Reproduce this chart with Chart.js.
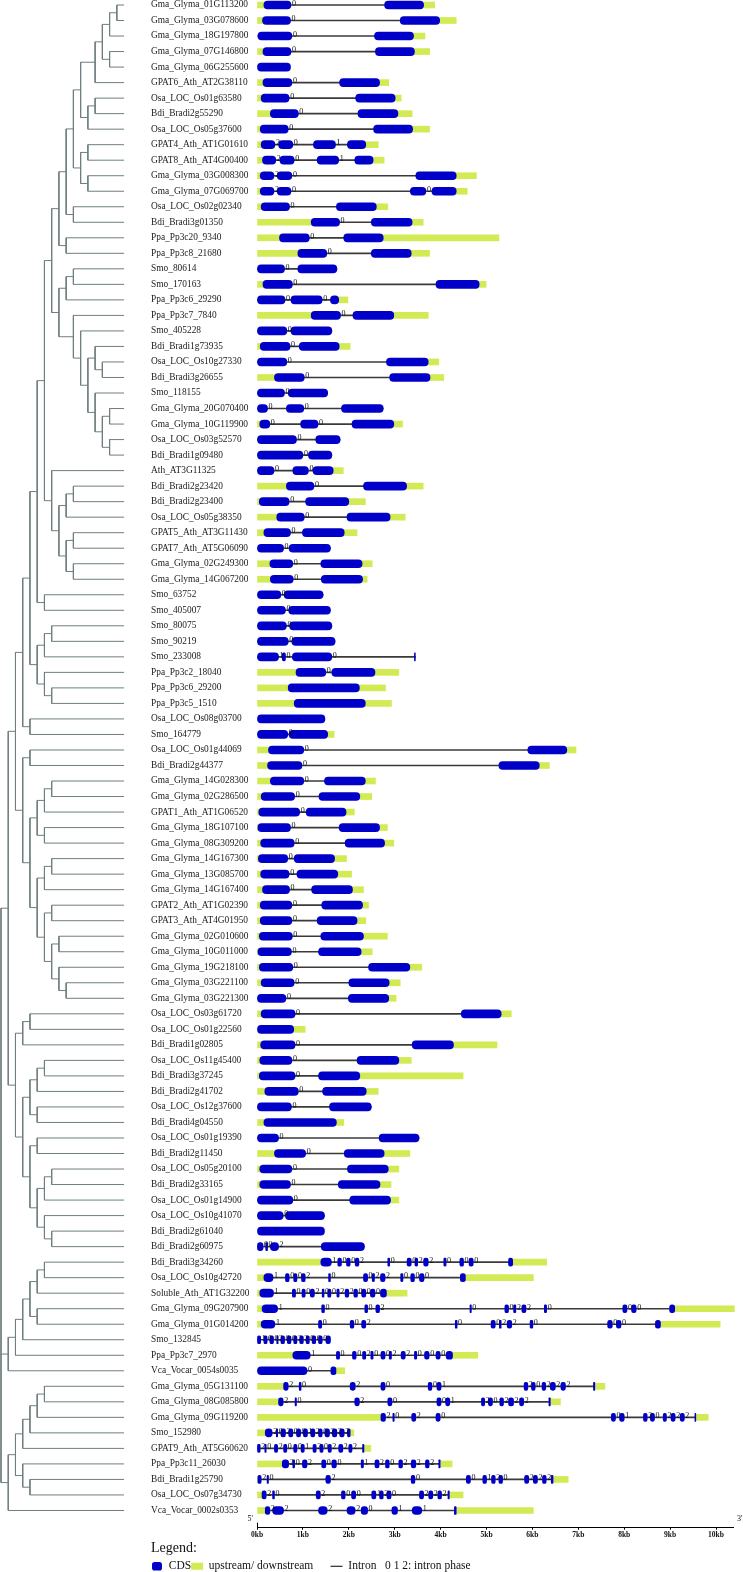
<!DOCTYPE html>
<html>
<head>
<meta charset="utf-8">
<script src="https://cdn.jsdelivr.net/npm/chart.js@4.4.1/dist/chart.umd.min.js"></script>
<style>
  html, body { margin: 0; padding: 0; background: #fff; }
  #wrap { width: 743px; height: 1572px; position: relative; }
</style>
</head>
<body>
<div id="wrap"><canvas id="geneChart"></canvas></div>
<script>
// gene names, top to bottom (row 1 = top)
const geneNames = [
  'Gma_Glyma_01G113200','Gma_Glyma_03G078600','Gma_Glyma_18G197800','Gma_Glyma_07G146800','Gma_Glyma_06G255600',
  'GPAT6_Ath_AT2G38110','Osa_LOC_Os01g63580','Bdi_Bradi2g55290','Osa_LOC_Os05g37600','GPAT4_Ath_AT1G01610',
  'GPAT8_Ath_AT4G00400','Gma_Glyma_03G008300','Gma_Glyma_07G069700','Osa_LOC_Os02g02340','Bdi_Bradi3g01350',
  'Ppa_Pp3c20_9340','Ppa_Pp3c8_21680','Smo_80614','Smo_170163','Ppa_Pp3c6_29290',
  'Ppa_Pp3c7_7840','Smo_405228','Bdi_Bradi1g73935','Osa_LOC_Os10g27330','Bdi_Bradi3g26655',
  'Smo_118155','Gma_Glyma_20G070400','Gma_Glyma_10G119900','Osa_LOC_Os03g52570','Bdi_Bradi1g09480',
  'Ath_AT3G11325','Bdi_Bradi2g23420','Bdi_Bradi2g23400','Osa_LOC_Os05g38350','GPAT5_Ath_AT3G11430',
  'GPAT7_Ath_AT5G06090','Gma_Glyma_02G249300','Gma_Glyma_14G067200','Smo_63752','Smo_405007',
  'Smo_80075','Smo_90219','Smo_233008','Ppa_Pp3c2_18040','Ppa_Pp3c6_29200',
  'Ppa_Pp3c5_1510','Osa_LOC_Os08g03700','Smo_164779','Osa_LOC_Os01g44069','Bdi_Bradi2g44377',
  'Gma_Glyma_14G028300','Gma_Glyma_02G286500','GPAT1_Ath_AT1G06520','Gma_Glyma_18G107100','Gma_Glyma_08G309200',
  'Gma_Glyma_14G167300','Gma_Glyma_13G085700','Gma_Glyma_14G167400','GPAT2_Ath_AT1G02390','GPAT3_Ath_AT4G01950',
  'Gma_Glyma_02G010600','Gma_Glyma_10G011000','Gma_Glyma_19G218100','Gma_Glyma_03G221100','Gma_Glyma_03G221300',
  'Osa_LOC_Os03g61720','Osa_LOC_Os01g22560','Bdi_Bradi1g02805','Osa_LOC_Os11g45400','Bdi_Bradi3g37245',
  'Bdi_Bradi2g41702','Osa_LOC_Os12g37600','Bdi_Bradi4g04550','Osa_LOC_Os01g19390','Bdi_Bradi2g11450',
  'Osa_LOC_Os05g20100','Bdi_Bradi2g33165','Osa_LOC_Os01g14900','Osa_LOC_Os10g41070','Bdi_Bradi2g61040',
  'Bdi_Bradi2g60975','Bdi_Bradi3g34260','Osa_LOC_Os10g42720','Soluble_Ath_AT1G32200','Gma_Glyma_09G207900',
  'Gma_Glyma_01G014200','Smo_132845','Ppa_Pp3c7_2970','Vca_Vocar_0054s0035','Gma_Glyma_05G131100',
  'Gma_Glyma_08G085800','Gma_Glyma_09G119200','Smo_152980','GPAT9_Ath_AT5G60620','Ppa_Pp3c11_26030',
  'Bdi_Bradi1g25790','Osa_LOC_Os07g34730','Vca_Vocar_0002s0353'
];

// CDS exons per gene, in kb
const cdsExons = [
  [[0.15,0.74],[2.78,3.63]],
  [[0.12,0.73],[3.12,3.98]],
  [[0.02,0.76],[2.56,3.41]],
  [[0.13,0.74],[2.58,3.43]],
  [[0,0.73]],
  [[0.13,0.76],[1.80,2.67]],
  [[0.09,0.70],[2.15,3.01]],
  [[0.29,0.90],[2.20,3.07]],
  [[0.07,0.68],[2.54,3.39]],
  [[0.09,0.39],[0.47,0.78],[1.23,1.71],[1.97,2.37]],
  [[0.12,0.41],[0.50,0.81],[1.31,1.78],[2.13,2.53]],
  [[0.07,0.37],[0.44,0.76],[3.46,4.34]],
  [[0.07,0.37],[0.44,0.74],[3.34,3.68],[3.81,4.34]],
  [[0.09,0.71],[1.73,2.60]],
  [[1.18,1.80],[2.49,3.38]],
  [[0.49,1.14],[1.89,2.75]],
  [[0.89,1.52],[2.49,3.36]],
  [[0,0.60],[0.89,1.74]],
  [[0.13,0.77],[3.90,4.84]],
  [[0,0.61],[0.74,1.42],[1.60,1.78]],
  [[1.18,1.82],[2.09,2.98]],
  [[0,0.65],[0.74,1.63]],
  [[0.07,0.72],[0.92,1.79]],
  [[0,0.65],[2.82,3.73]],
  [[0.38,1.03],[2.89,3.77]],
  [[0,0.60],[0.68,1.54]],
  [[0,0.23],[0.64,1.02],[1.84,2.75]],
  [[0.06,0.28],[0.95,1.33],[2.07,2.98]],
  [[0,0.86],[1.28,1.81]],
  [[0,1.00],[1.12,1.63]],
  [[0,0.37],[0.78,1.12],[1.22,1.66]],
  [[0.64,1.24],[2.32,3.26]],
  [[0.05,0.70],[1.06,2.00]],
  [[0.43,1.03],[1.96,2.90]],
  [[0.15,0.73],[0.99,1.90]],
  [[0,0.58],[0.70,1.60]],
  [[0.28,0.78],[1.39,2.29]],
  [[0.29,0.79],[1.40,2.30]],
  [[0,0.52],[0.59,1.44]],
  [[0,0.62],[0.69,1.60]],
  [[0,0.64],[0.71,1.63]],
  [[0,0.68],[0.76,1.70]],
  [[0,0.47],[0.55,0.62],[0.77,1.63],[3.43,3.45]],
  [[0.85,1.50],[1.63,2.57]],
  [[0.68,2.23]],
  [[0.81,2.36]],
  [[0,1.48]],
  [[0,0.67],[0.70,1.54]],
  [[0.25,1.02],[5.90,6.75]],
  [[0.23,0.98],[5.27,6.15]],
  [[0.29,1.02],[1.47,2.36]],
  [[0.09,0.82],[1.35,2.24]],
  [[0.04,0.93],[1.07,1.94]],
  [[0.02,0.73],[1.79,2.67]],
  [[0.08,0.81],[1.92,2.78]],
  [[0.03,0.67],[0.81,1.69]],
  [[0.08,0.70],[0.87,1.76]],
  [[0.12,0.71],[1.19,2.08]],
  [[0.07,0.76],[1.41,2.30]],
  [[0.07,0.76],[1.31,2.18]],
  [[0.05,0.77],[1.39,2.32]],
  [[0.02,0.75],[1.34,2.27]],
  [[0.05,0.78],[2.43,3.33]],
  [[0.09,0.81],[2.00,2.88]],
  [[0,0.63],[1.99,2.87]],
  [[0.09,0.83],[4.45,5.32]],
  [[0,0.80]],
  [[0.08,0.83],[3.38,4.28]],
  [[0.06,0.76],[2.18,3.09]],
  [[0.05,0.83],[1.34,2.24]],
  [[0.17,0.90],[1.43,2.38]],
  [[0,0.75],[1.58,2.49]],
  [[0.15,1.73]],
  [[0,0.47],[2.66,3.53]],
  [[0.38,1.06],[1.90,2.77]],
  [[0.06,0.76],[1.97,2.86]],
  [[0.06,0.73],[1.77,2.68]],
  [[0,0.78],[2.02,2.91]],
  [[0,0.57],[0.62,1.47]],
  [[0,1.47]],
  [[0,0.13],[0.19,0.23],[0.29,0.47],[1.40,2.34]],
  [[1.39,1.62],[1.76,1.84],[1.95,2.03],[2.14,2.22],[2.85,2.89],[3.27,3.36],[3.44,3.50],[3.63,3.73],[4.07,4.12],[4.42,4.50],[4.62,4.71],[5.48,5.57]],
  [[0.15,0.35],[0.62,0.70],[0.80,0.87],[0.97,1.05],[1.56,1.60],[2.32,2.41],[2.51,2.56],[2.69,2.79],[3.13,3.18],[3.35,3.43],[3.54,3.64],[4.43,4.54]],
  [[0.06,0.36],[0.77,0.84],[0.98,1.05],[1.16,1.25],[1.42,1.46],[1.54,1.61],[1.74,1.79],[1.92,2.00],[2.11,2.19],[2.28,2.37],[2.47,2.57],[2.69,2.82]],
  [[0.11,0.45],[1.41,1.47],[2.35,2.41],[2.59,2.67],[4.64,4.67],[5.40,5.48],[5.59,5.64],[5.77,5.86],[6.26,6.31],[7.97,8.06],[8.16,8.26],[8.99,9.10]],
  [[0.09,0.39],[1.34,1.41],[2.03,2.11],[2.28,2.37],[4.32,4.36],[5.10,5.19],[5.28,5.32],[5.45,5.55],[5.95,6.01],[7.64,7.74],[7.83,7.93],[8.68,8.79]],
  [[0,0.08],[0.15,0.22],[0.28,0.36],[0.43,0.46],[0.52,0.60],[0.66,0.74],[0.80,0.87],[0.93,1.01],[1.07,1.14],[1.20,1.28],[1.34,1.42],[1.50,1.60]],
  [[0.78,1.16],[1.73,1.80],[2.08,2.16],[2.30,2.37],[2.48,2.53],[2.70,2.79],[2.88,2.93],[3.14,3.23],[3.43,3.48],[3.65,3.75],[3.90,3.99],[4.12,4.26]],
  [[0,1.09],[1.61,1.72]],
  [[0.58,0.68],[0.92,0.96],[2.03,2.14],[2.70,2.79],[3.73,3.81],[3.92,4.01],[5.82,5.90],[5.98,6.06],[6.21,6.29],[6.39,6.50],[6.62,6.72],[7.33,7.36]],
  [[0.47,0.57],[0.83,0.86],[2.13,2.23],[2.85,2.94],[3.92,4.01],[4.11,4.20],[4.89,4.96],[5.04,5.13],[5.29,5.37],[5.48,5.59],[5.72,5.81],[6.36,6.39]],
  [[2.70,2.80],[2.96,2.99],[3.37,3.46],[3.90,3.99],[7.72,7.81],[7.90,8.00],[8.42,8.50],[8.57,8.66],[8.85,8.92],[9.02,9.11],[9.22,9.31],[9.54,9.56]],
  [[0.18,0.33],[0.42,0.45],[0.52,0.62],[0.69,0.78],[0.86,0.95],[1.01,1.10],[1.17,1.26],[1.34,1.42],[1.48,1.58],[1.64,1.74],[1.80,1.90],[1.97,2.03]],
  [[0,0.07],[0.17,0.20],[0.38,0.45],[0.58,0.65],[0.80,0.87],[0.96,1.03],[1.22,1.29],[1.37,1.44],[1.55,1.62],[1.78,1.87],[2.00,2.07],[2.30,2.33]],
  [[0.55,0.69],[0.78,0.82],[0.99,1.09],[1.41,1.50],[1.63,1.73],[2.27,2.32],[2.57,2.66],[2.80,2.88],[3.09,3.17],[3.36,3.46],[3.67,3.75],[3.96,3.99]],
  [[0.02,0.09],[0.22,0.25],[1.50,1.60],[3.36,3.44],[4.56,4.65],[4.92,5.00],[5.11,5.19],[5.27,5.35],[5.83,5.92],[6.02,6.11],[6.22,6.30],[6.41,6.45]],
  [[0.11,0.20],[0.34,0.38],[1.29,1.38],[1.84,1.92],[2.06,2.15],[2.50,2.59],[2.67,2.75],[2.83,2.92],[3.54,3.63],[3.74,3.83],[3.94,4.02],[4.16,4.19]],
  [[0.18,0.28],[0.34,0.58],[1.34,1.53],[1.96,2.14],[2.27,2.41],[2.94,3.06],[3.38,3.59],[4.30,4.34]]
];

// upstream / downstream regions per gene, in kb
const utrParts = [
  [[0,0.15],[3.63,3.87]], [[0,0.12],[3.98,4.34]], [[3.41,3.66]], [[0,0.13],[3.43,3.76]], [],
  [[0,0.13],[2.67,2.87]], [[0,0.09],[3.01,3.14]], [[0,0.29],[3.07,3.38]], [[0,0.07],[3.39,3.76]], [[0,0.09],[2.37,2.64]],
  [[0,0.12],[2.53,2.77]], [[0,0.07],[4.34,4.78]], [[0,0.07],[4.34,4.58]], [[0,0.09],[2.60,2.85]], [[0,1.18],[3.38,3.62]],
  [[0,0.49],[2.75,5.27]], [[0,0.89],[3.36,3.76]], [], [[0,0.13],[4.84,4.99]], [[1.78,1.98]],
  [[0,1.18],[2.98,3.73]], [], [[0,0.07],[1.79,2.03]], [[3.73,3.96]], [[0,0.38],[3.77,4.07]],
  [], [], [[0,0.06],[2.98,3.17]], [], [],
  [[1.66,1.88]], [[0,0.64],[3.26,3.62]], [[0,0.05],[2.00,2.36]], [[0,0.43],[2.90,3.23]], [[0,0.15],[1.90,2.18]],
  [], [[0,0.28],[2.29,2.51]], [[0,0.29],[2.30,2.40]], [], [],
  [], [], [], [[0,0.85],[2.57,3.09]], [[0,0.68],[2.23,2.80]],
  [[0,0.81],[2.36,2.93]], [], [[1.54,1.68]], [[0,0.25],[6.75,6.95]], [[0,0.23],[6.15,6.37]],
  [[0,0.29],[2.36,2.58]], [[0,0.09],[2.24,2.50]], [[0,0.04],[1.94,2.12]], [[0,0.02],[2.67,2.84]], [[0,0.08],[2.78,2.98]],
  [[0,0.03],[1.69,1.95]], [[0,0.08],[1.76,2.06]], [[0,0.12],[2.08,2.32]], [[0,0.07],[2.30,2.43]], [[0,0.07],[2.18,2.37]],
  [[0,0.05],[2.32,2.84]], [[0,0.02],[2.27,2.51]], [[0,0.05],[3.33,3.59]], [[0,0.09],[2.88,3.12]], [[2.87,3.03]],
  [[0,0.09],[5.32,5.54]], [[0.80,1.05]], [[0,0.08],[4.28,5.23]], [[0,0.06],[3.09,3.36]], [[0,0.05],[2.24,4.49]],
  [[0,0.17],[2.38,2.64]], [], [[0,0.15],[1.73,1.89]], [], [[0,0.38],[2.77,3.33]],
  [[0,0.06],[2.86,3.09]], [[0,0.06],[2.68,2.92]], [[2.91,3.09]], [], [],
  [], [[0,1.39],[5.57,6.31]], [[0,0.15],[4.54,6.02]], [[0,0.06],[2.82,3.27]], [[0,0.11],[9.10,10.40]],
  [[0,0.09],[8.79,10.09]], [], [[0,0.78],[4.26,4.81]], [[1.72,1.91]], [[0,0.58],[7.36,7.58]],
  [[0,0.47],[6.39,6.61]], [[0,2.70],[9.56,9.83]], [[0,0.18],[2.03,2.11]], [[2.33,2.48]], [[0,0.55],[3.99,4.25]],
  [[0,0.02],[6.45,6.78]], [[0,0.11],[4.19,4.49]], [[0,0.18],[4.34,6.02]]
];

// intron phase after each CDS exon
const intronPhases = [
  [0],[0],[0],[0],[],[0],[0],[0],[0],[2,0,1],
  [2,0,1],[2,0],[2,0,0],[0],[0],[0],[0],[0],[0],[0,0],
  [0],[0],[0],[0],[0],[0],[0,0],[0,0],[0],[0],
  [0,0],[0],[0],[0],[0],[0],[0],[0],[0],[0],
  [0],[0],[1,0,0],[0],[],[],[],[0],[0],[0],
  [0],[0],[0],[0],[0],[0],[0],[0],[0],[0],
  [0],[0],[0],[0],[0],[0],[],[0],[0],[0],
  [0],[0],[],[0],[0],[0],[0],[0],[0],[],
  [0,0,2],
  [1,0,0,2,0,0,2,2,0,0,0],
  [1,0,0,2,0,0,2,2,0,0,0],
  [1,0,0,2,0,0,2,2,0,0,0],
  [1,0,0,2,0,0,2,2,0,0,0],
  [1,0,0,2,0,0,2,2,0,0,0],
  [1,0,0,2,0,0,2,2,0,0,0],
  [1,0,0,2,0,0,2,2,0,0,0],
  [0],
  [2,0,2,0,0,1,2,0,2,2,2],
  [2,0,2,0,0,1,2,0,2,2,2],
  [2,0,2,0,0,1,2,0,2,2,2],
  [2,0,2,0,0,1,2,0,2,2,2],
  [2,0,2,0,0,1,2,0,2,2,2],
  [2,0,2,0,0,1,2,0,2,2,2],
  [2,0,2,0,0,1,2,0,2,2,2],
  [2,0,2,0,0,1,2,0,2,2,2],
  [2,2,2,2,0,1,1]
];

const kbTicks = [0,1,2,3,4,5,6,7,8,9,10];

// tree: [depth, child, child...]; numbers are rows
const tree = [0,
  [1,
    [2,
      [3,
        [4,
          [5,
            [6,
              [7,
                [8,
                  [9,
                    [10,
                      [11,
                        [13, [14, [15, [16, 1, 2], 3], [15, 4, 5]], 6],
                        [12, [13, 7, 8], 9]],
                      [11, [12, 10, 11], [12, 12, 13]]],
                    [10, 14, 15]],
                  [9, 16, 17]],
                [8,
                  [9, [10, 18, 19], 20],
                  [10, 21, [11, 22, [12, [13, 23, [14, 24, 25]], [13, 26, [14, [15, 27, 28], [15, 29, 30]]]]]]]],
              [7, 31, [8, [9, [10, 32, 33], 34], [9, [10, 35, 36], [10, 37, 38]]]]],
            [6, 39, 40]],
          [5, [6, [7, 41, 42], 43], [6, 44, [7, 45, 46]]]],
        [4, 47, 48]],
      [3, [4, 49, 50],
        [4, [5, [6, [7, 51, 52], 53], [6, 54, 55]],
            [5, [6, [7, 56, 57], 58], [6, [7, 59, 60], [7, [8, 61, 62], [8, 63, [9, 64, 65]]]]]]]],
    [2, [3, [4, 66, 67], 68],
        [3, [4, [5, [6, 69, 70], 71], [5, 72, 73]],
            [4, [5, 74, 75], [5, [6, [7, 76, 77], 78], [6, 79, [7, 80, 81]]]]]]],
  [1, [2, [3, [4, [5, [6, 82, 83], 84], [5, 85, 86]], 87], 88], 89],
  [1, [2, [3, [4, [5, [6, 90, 91], 92], 93], 94], [3, 95, [4, 96, 97]]], 98]
];
const leafDepth = 17;

const CDS_BLUE = '#0000c8';
const UTR_GREEN = '#d2eb55';
const TREE_GREY = '#6e7f7f';

// layout in px
const plotLeft = 257, plotRight = 733, labelLeft = 151;
const treeStart = 1, treeStep = 7.24;
const kbMax = (plotRight - plotLeft) / 45.9;
const yMin = 0.678, yMax = 99.11;
const treeMin = (plotLeft - treeStart) / treeStep;
const treeMax = (plotRight - treeStart) / treeStep;

document.addEventListener('DOMContentLoaded', () => {
  const cdsData = [], utrData = [], intronData = [], phaseData = [];
  geneNames.forEach((name, i) => {
    const row = i + 1;
    const cds = cdsExons[i];
    cds.forEach(seg => cdsData.push({ x: seg, y: row }));
    utrParts[i].forEach(seg => utrData.push({ x: seg, y: row }));
    if (cds.length > 1) intronData.push({ x: [cds[0][0], cds[cds.length - 1][1]], y: row });
    intronPhases[i].forEach((p, k) => phaseData.push({ x: cds[k][1], y: row, t: p }));
  });

  // tree branches, broken with null points
  const treeLines = [];
  const walk = node => {
    if (typeof node === 'number') return { x: leafDepth, y: node };
    const [depth, ...kids] = node;
    const pos = kids.map(walk);
    pos.forEach(p => treeLines.push({ x: depth, y: p.y }, { x: p.x, y: p.y }, { x: depth, y: null }));
    const y0 = pos[0].y, y1 = pos[pos.length - 1].y;
    treeLines.push({ x: depth, y: y0 }, { x: depth, y: y1 }, { x: depth, y: null });
    return { x: depth, y: (y0 + y1) / 2 };
  };
  walk(tree);

  const extras = {
    id: 'extras',
    afterDatasetsDraw(chart) {
      const ctx = chart.ctx;
      const meta = chart.getDatasetMeta(3);
      ctx.save();
      ctx.fillStyle = '#111';
      ctx.font = '8px "Liberation Serif"';
      ctx.textAlign = 'left';
      ctx.textBaseline = 'alphabetic';
      meta.data.forEach((pt, i) => {
        ctx.fillText(String(phaseData[i].t), pt.x + 1, pt.y + 0.8);
      });
      const xs = chart.scales.x;
      ctx.font = '8px "Liberation Serif"';
      ctx.textAlign = 'right';
      ctx.fillText("5'", xs.left - 4, xs.top - 7);
      ctx.textAlign = 'left';
      ctx.fillText("3'", xs.right + 4, xs.top - 7);
      ctx.strokeStyle = '#000';
      ctx.lineWidth = 1;
      ctx.beginPath();
      ctx.moveTo(Math.round(xs.left) + 0.5, xs.top - 5);
      ctx.lineTo(Math.round(xs.left) + 0.5, xs.top);
      ctx.stroke();
      ctx.restore();
    }
  };

  Chart.defaults.font.family = '"Liberation Serif", "Times New Roman", serif';

  new Chart(document.getElementById('geneChart'), {
    type: 'bar',
    data: {
      datasets: [
        { type: 'bar', label: 'Intron', data: intronData, indexAxis: 'y', xAxisID: 'x', yAxisID: 'y',
          backgroundColor: '#3a3a3a', barThickness: 1, maxBarThickness: 1, grouped: false, order: 4, clip: false },
        { type: 'bar', label: 'upstream/ downstream', data: utrData, indexAxis: 'y', xAxisID: 'x', yAxisID: 'y',
          backgroundColor: UTR_GREEN, barThickness: 6, maxBarThickness: 6, grouped: false, order: 3, clip: false },
        { type: 'bar', label: 'CDS', data: cdsData, indexAxis: 'y', xAxisID: 'x', yAxisID: 'y',
          backgroundColor: CDS_BLUE, borderRadius: 4, borderSkipped: false,
          barThickness: 8, maxBarThickness: 8, grouped: false, order: 2, clip: false },
        { type: 'line', label: 'phase', data: phaseData, xAxisID: 'x', yAxisID: 'y',
          showLine: false, pointRadius: 0, pointHitRadius: 0, order: 1, clip: false },
        { type: 'line', label: 'tree', data: treeLines, xAxisID: 'xt', yAxisID: 'y',
          borderColor: TREE_GREY, borderWidth: 1, pointRadius: 0, pointHitRadius: 0,
          spanGaps: false, tension: 0, fill: false, order: 5, clip: false }
      ]
    },
    options: {
      responsive: true,
      maintainAspectRatio: false,
      animation: false,
      events: [],
      layout: { padding: { left: labelLeft, right: 743 - plotRight, top: 0, bottom: 0 } },
      scales: {
        x: {
          type: 'linear', position: 'bottom', offset: false, bounds: 'data',
          min: 0, max: kbMax,
          afterBuildTicks: s => { s.ticks = kbTicks.map(v => ({ value: v })); s.min = 0; s.max = kbMax; },
          afterFit: s => { s.height = 13.3; s.paddingLeft = 0; s.paddingRight = 0; },
          ticks: { autoSkip: false, maxRotation: 0, padding: 1, color: '#111',
                   font: { size: 7.5, weight: 'bold' }, callback: v => v + 'kb' },
          grid: { drawOnChartArea: false, drawTicks: true, tickLength: 2, color: '#000', offset: false },
          border: { display: true, color: '#000', width: 1 }
        },
        xt: {
          type: 'linear', axis: 'x', position: 'top', display: false, offset: false, bounds: 'data',
          grid: { offset: false },
          min: treeMin, max: treeMax,
          afterBuildTicks: s => { s.min = treeMin; s.max = treeMax; }
        },
        y: {
          type: 'linear', position: 'left', reverse: true, offset: false, bounds: 'data',
          min: yMin, max: yMax,
          afterBuildTicks: s => { s.ticks = geneNames.map((n, i) => ({ value: i + 1 })); s.min = yMin; s.max = yMax; },
          afterFit: s => { s.width = plotLeft - labelLeft; s.paddingTop = 0; s.paddingBottom = 0; },
          ticks: { autoSkip: false, crossAlign: 'far', padding: 0, color: '#1a1a1a',
                   font: { size: 9.4 }, callback: v => geneNames[v - 1] },
          grid: { display: false, offset: false },
          border: { display: false }
        }
      },
      plugins: {
        tooltip: { enabled: false },
        legend: {
          display: true,
          position: 'bottom',
          align: 'start',
          maxHeight: 31,
          title: { display: true, text: 'Legend:', position: 'start', color: '#111',
                   font: { size: 14 }, padding: { top: 0, bottom: 2.7 } },
          labels: {
            usePointStyle: true, pointStyleWidth: 12, boxHeight: 7, padding: 0,
            color: '#111', font: { size: 11.5 },
            generateLabels: () => [
              { text: 'CDS', fillStyle: CDS_BLUE, strokeStyle: CDS_BLUE, lineWidth: 0, pointStyle: 'rectRounded', hidden: false },
              { text: 'upstream/ downstream      ', fillStyle: UTR_GREEN, strokeStyle: UTR_GREEN, lineWidth: 0, pointStyle: 'rect', hidden: false },
              { text: 'Intron   0 1 2: intron phase', fillStyle: '#000', strokeStyle: '#000', lineWidth: 1, pointStyle: 'line', hidden: false }
            ]
          }
        }
      }
    },
    plugins: [extras]
  });
});
</script>
</body>
</html>
